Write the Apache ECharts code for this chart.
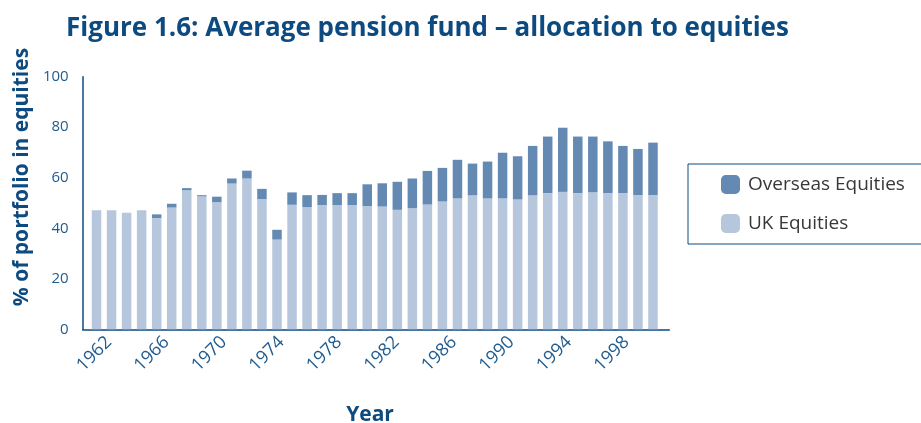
<!DOCTYPE html>
<html>
<head>
<meta charset="utf-8">
<script src="https://cdn.jsdelivr.net/npm/echarts@6/dist/echarts.min.js"></script>
<style>
  html, body { margin: 0; padding: 0; background: #fff; }
  #chart { width: 921px; height: 423px; }
</style>
</head>
<body>
<div id="chart"></div>
<script>
// data (percent of portfolio)
var years = [
	'1962', '1963', '1964', '1965', '1966', '1967', '1968', '1969', '1970', '1971',
	'1972', '1973', '1974', '1975', '1976', '1977', '1978', '1979', '1980', '1981',
	'1982', '1983', '1984', '1985', '1986', '1987', '1988', '1989', '1990', '1991',
	'1992', '1993', '1994', '1995', '1996', '1997', '1998', '1999'
];
var ukEquities = [
	47.1, 47.1, 46.1, 47.1, 44.0, 48.2, 55.1, 52.6, 50.3, 57.7,
	59.7, 51.5, 35.5, 49.3, 48.4, 49.2, 49.2, 49.2, 48.8, 48.6,
	47.3, 48.0, 49.4, 50.6, 51.8, 53.0, 51.8, 51.8, 51.4, 53.0,
	53.9, 54.4, 53.9, 54.2, 53.9, 53.9, 53.1, 53.1
];
var overseasEquities = [
	0, 0, 0, 0, 1.5, 1.5, 0.8, 0.5, 2.2, 2.0,
	3.1, 4.1, 3.9, 4.9, 4.7, 4.0, 4.7, 4.7, 8.6, 9.2,
	11.1, 11.7, 13.3, 13.3, 15.3, 12.6, 14.6, 18.1, 17.1, 19.6,
	22.4, 25.4, 22.4, 22.1, 20.5, 18.7, 18.3, 20.8
];
var yearTicks = [1962, 1966, 1970, 1974, 1978, 1982, 1986, 1990, 1994, 1998];

var navy = '#0d4a80';
var tickBlue = '#215c8f';
var font = 'Open Sans';

var chart = echarts.init(document.getElementById('chart'));

chart.setOption({
	animation: false,
	textStyle: { fontFamily: font },
	title: {
		text: 'Figure 1.6: Average pension fund \u2013 allocation to equities',
		left: 66,
		top: 16,
		padding: 0,
		textStyle: { fontFamily: font, fontSize: 26, fontWeight: 'bold', color: navy }
	},
	legend: {
		orient: 'vertical',
		left: 688,
		top: 164,
		data: ['Overseas Equities', 'UK Equities'],
		itemWidth: 19,
		itemHeight: 19,
		itemGap: 20,
		padding: [11, 40, 11, 33],
		borderColor: navy,
		borderWidth: 1,
		textStyle: { fontFamily: font, fontSize: 19, color: '#383838', padding: [0, 0, 0, 3] }
	},
	grid: [
		// bars
		{ left: 89, right: 260.5, top: 76.7, bottom: 93.7, outerBoundsMode: 'none' },
		// axes
		{ left: 82.7, right: 251.7, top: 76.7, bottom: 93.7, outerBoundsMode: 'none' }
	],
	xAxis: [
		{
			type: 'category', gridIndex: 0, data: years,
			axisLine: { show: false }, axisTick: { show: false }, axisLabel: { show: false }
		},
		{
			type: 'value', gridIndex: 1, min: 1960.17, max: 2000.98,
			name: 'Year', nameLocation: 'middle', nameGap: 75,
			nameTextStyle: { fontFamily: font, fontSize: 21, fontWeight: 'bold', color: navy, padding: [0, 12, 0, 0] },
			axisLine: { show: true, lineStyle: { color: navy, width: 1.5 } },
			axisTick: { show: false },
			splitLine: { show: false },
			axisLabel: {
				customValues: yearTicks,
				rotate: 45,
				margin: 10,
				fontFamily: font,
				fontSize: 18,
				color: tickBlue,
				formatter: function(v) { return String(v); }
			}
		}
	],
	yAxis: [
		{ type: 'value', gridIndex: 0, min: 0, max: 100, show: false },
		{
			type: 'value', gridIndex: 1, min: 0, max: 100, interval: 20,
			name: '% of portfolio in equities', nameLocation: 'middle', nameGap: 49,
			nameTextStyle: { fontFamily: font, fontSize: 21, fontWeight: 'bold', color: navy, padding: [0, 0, 0, 52] },
			axisLine: { show: true, lineStyle: { color: navy, width: 1.5 } },
			axisTick: { show: false },
			splitLine: { show: false },
			axisLabel: { margin: 14, fontFamily: font, fontSize: 15, color: tickBlue }
		}
	],
	series: [
		{
			name: 'UK Equities', type: 'bar', stack: 'eq',
			xAxisIndex: 0, yAxisIndex: 0,
			barWidth: 9.5,
			itemStyle: { color: '#b6c7dd' },
			data: ukEquities
		},
		{
			name: 'Overseas Equities', type: 'bar', stack: 'eq',
			xAxisIndex: 0, yAxisIndex: 0,
			barWidth: 9.5,
			itemStyle: { color: '#648ab3' },
			data: overseasEquities
		}
	]
});
</script>
</body>
</html>
